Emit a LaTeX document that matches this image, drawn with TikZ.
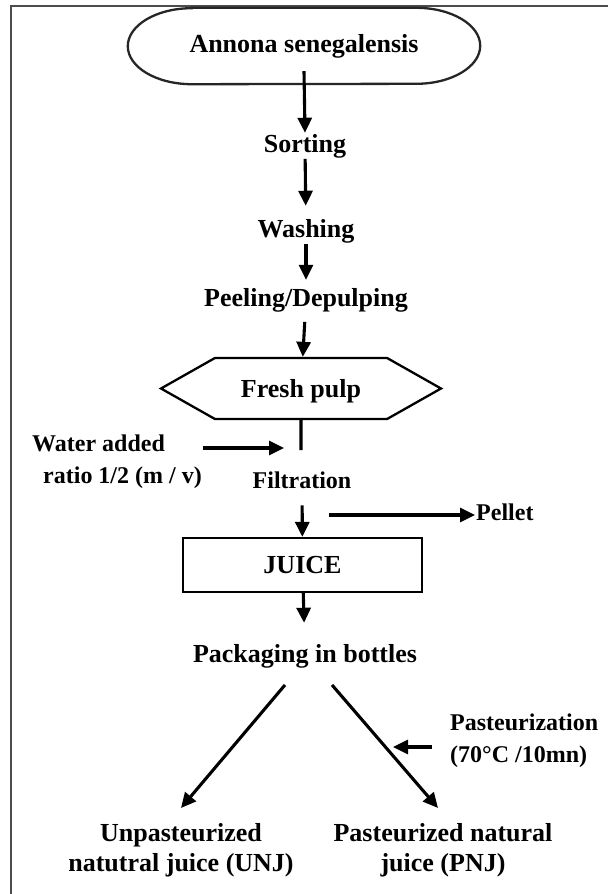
\documentclass[tikz,border=0pt]{standalone}
\usepackage{fontspec}
\setmainfont{Liberation Serif}
\usetikzlibrary{arrows.meta,shapes.symbols}

\tikzset{
  lbl/.style={font=\bfseries\fontsize{26}{30.5}\selectfont,inner sep=1pt},
  sidelbl/.style={font=\bfseries\fontsize{24}{32}\selectfont,inner sep=1pt},
  flow/.style={-{Triangle[length=15pt,width=14pt]},line width=3.1pt},
  pulpbox/.style={lbl,draw,line width=2.3pt,shape=signal,signal to=east and west,
    signal pointer angle=59,minimum width=280pt,minimum height=61pt,text depth=0pt},
  juicebox/.style={lbl,draw,line width=2.3pt,minimum width=239pt,minimum height=54pt},
}

\begin{document}
\begin{tikzpicture}[x=1pt,y=-1pt,>=Latex]
  \useasboundingbox (0,0) rectangle (608,894);
  % frame, only its top and left sides are in view
  \draw[line width=2.2pt,black!70] (11,894) -- (11,6) -- (608,6);

  % main chain
  \node[lbl,minimum width=352pt,minimum height=76pt] (annona) at (304,46) {Annona senegalensis};
  \draw[line width=2.3pt,black!85] ([xshift=64pt]annona.north west) -- ([xshift=-64pt]annona.north east)
    arc[start angle=90,end angle=-90,x radius=64pt,y radius=38pt]
    -- ([xshift=64pt]annona.south west)
    arc[start angle=270,end angle=90,x radius=64pt,y radius=38pt] -- cycle;
  \node[lbl,anchor=base] (sorting) at (305,152) {Sorting};
  \node[lbl,anchor=base] (washing) at (306,237) {Washing};
  \node[lbl,anchor=base] (peeling) at (306,306) {Peeling/Depulping};
  \node[pulpbox] (pulp) at (301,388.5) {Fresh pulp};
  \node[sidelbl,anchor=base] (filt) at (302,488) {Filtration};
  \node[juicebox] (juice) at (302.5,565) {JUICE};
  \node[lbl,anchor=base] (pack) at (305,662) {Packaging in bottles};
  \node[lbl,anchor=north,align=center] (unj) at (181,822) {Unpasteurized\\natutral juice (UNJ)};
  \node[lbl,anchor=north,align=center] (pnj) at (443,822) {Pasteurized natural\\juice (PNJ)};

  % side inputs and outputs
  \node[sidelbl,anchor=north west,align=left] (water) at (31,434) {Water added\\\hspace*{11pt}ratio 1/2 (m / v)};
  \node[sidelbl,anchor=base west] (pellet) at (475,520) {Pellet};
  \node[sidelbl,anchor=north west,align=left] (past) at (449,713) {Pasteurization\\(70°C /10mn)};
  \coordinate (waterin) at (284,448);
  \coordinate (pelletout) at (329,515);
  \coordinate (pastin) at (393,747);

  % connectors
  \draw[flow] ([yshift=13pt]annona.south) -- (sorting.north);
  \draw[flow,shorten >=12pt] (sorting) -- (washing);
  \draw[flow,shorten >=7pt] (washing) -- (peeling);
  \draw[flow,shorten <=9pt] (peeling) -- (pulp);
  \draw[line width=3.1pt,shorten >=20pt] (pulp) -- (pulp |- filt.north);
  \draw[flow,shorten <=16pt] (filt) -- (juice);
  \draw[flow,shorten >=20pt] (juice) -- (pack);
  \draw[flow] ([xshift=-20pt,yshift=-16pt]pack.south) -- ([yshift=14pt]unj.north);
  \draw[flow] ([xshift=27pt,yshift=-16pt]pack.south) -- ([xshift=-5pt,yshift=14pt]pnj.north);
  \draw[flow] (water.east |- waterin) -- (waterin);
  \draw[flow] (pelletout) -- (pellet.west |- pelletout);
  \draw[flow,shorten <=17pt] (past.west |- pastin) -- (pastin);
\end{tikzpicture}
\end{document}
